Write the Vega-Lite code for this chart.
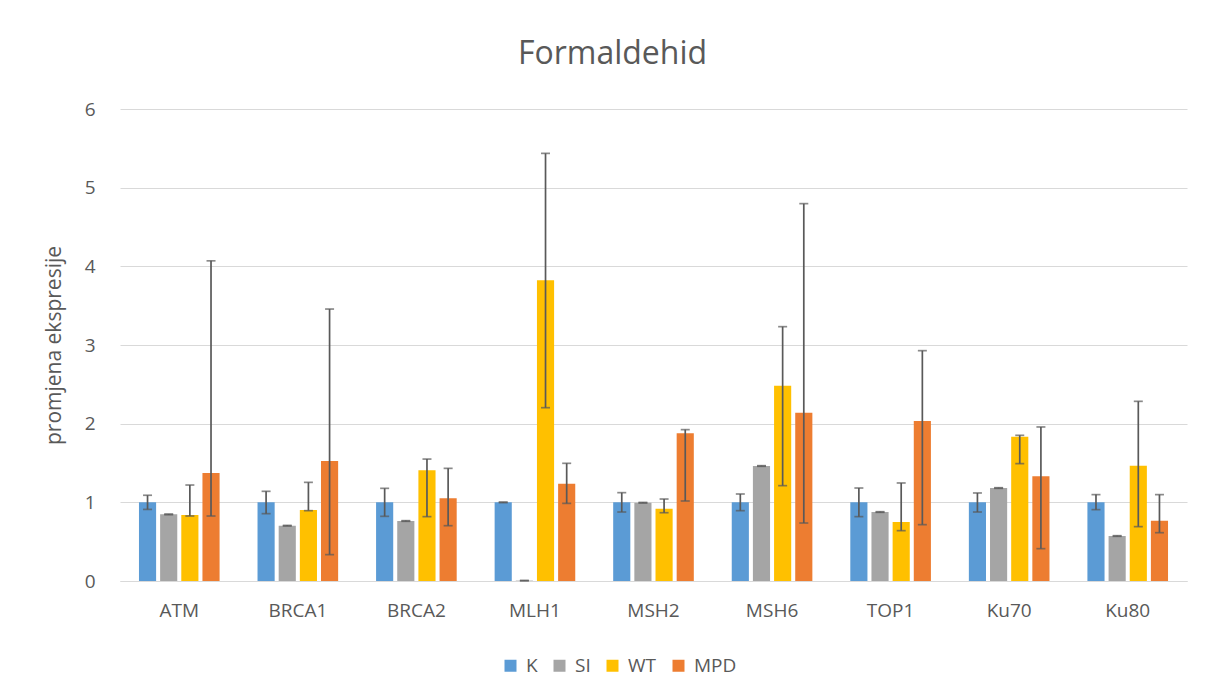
{
  "$schema": "https://vega.github.io/schema/vega-lite/v6.json",
  "autosize": "none",
  "width": 1067,
  "height": 472,
  "padding": {"left": 120, "top": 109, "right": 18, "bottom": 118},
  "background": "white",
  "title": {"text": "Formaldehid", "fontSize": 32, "font": "Open Sans", "fontWeight": "normal", "color": "#595959", "offset": 29, "dx": -41},
  "config": {
    "font": "Open Sans",
    "view": {"stroke": null},
    "axis": {"labelFont": "Open Sans", "titleFont": "Open Sans", "labelColor": "#595959", "titleColor": "#595959"},
    "legend": {"labelFont": "Open Sans"}
  },
  "data": {
    "values": [
      {"gene": "ATM", "group": "K", "value": 1.0, "lo": 0.91, "hi": 1.09},
      {"gene": "ATM", "group": "SI", "value": 0.847, "lo": 0.842, "hi": 0.852},
      {"gene": "ATM", "group": "WT", "value": 0.84, "lo": 0.826, "hi": 1.22},
      {"gene": "ATM", "group": "MPD", "value": 1.373, "lo": 0.826, "hi": 4.07},
      {"gene": "BRCA1", "group": "K", "value": 1.0, "lo": 0.856, "hi": 1.14},
      {"gene": "BRCA1", "group": "SI", "value": 0.703, "lo": 0.699, "hi": 0.707},
      {"gene": "BRCA1", "group": "WT", "value": 0.902, "lo": 0.894, "hi": 1.254},
      {"gene": "BRCA1", "group": "MPD", "value": 1.525, "lo": 0.335, "hi": 3.457},
      {"gene": "BRCA2", "group": "K", "value": 1.0, "lo": 0.822, "hi": 1.178},
      {"gene": "BRCA2", "group": "SI", "value": 0.763, "lo": 0.759, "hi": 0.767},
      {"gene": "BRCA2", "group": "WT", "value": 1.407, "lo": 0.818, "hi": 1.55},
      {"gene": "BRCA2", "group": "MPD", "value": 1.051, "lo": 0.703, "hi": 1.432},
      {"gene": "MLH1", "group": "K", "value": 1.0, "lo": 0.996, "hi": 1.004},
      {"gene": "MLH1", "group": "SI", "value": 0.005, "lo": 0.003, "hi": 0.007},
      {"gene": "MLH1", "group": "WT", "value": 3.822, "lo": 2.203, "hi": 5.436},
      {"gene": "MLH1", "group": "MPD", "value": 1.237, "lo": 0.987, "hi": 1.496},
      {"gene": "MSH2", "group": "K", "value": 1.0, "lo": 0.877, "hi": 1.123},
      {"gene": "MSH2", "group": "SI", "value": 0.995, "lo": 0.991, "hi": 0.999},
      {"gene": "MSH2", "group": "WT", "value": 0.919, "lo": 0.868, "hi": 1.042},
      {"gene": "MSH2", "group": "MPD", "value": 1.877, "lo": 1.017, "hi": 1.924},
      {"gene": "MSH6", "group": "K", "value": 1.0, "lo": 0.894, "hi": 1.106},
      {"gene": "MSH6", "group": "SI", "value": 1.462, "lo": 1.458, "hi": 1.466},
      {"gene": "MSH6", "group": "WT", "value": 2.483, "lo": 1.212, "hi": 3.233},
      {"gene": "MSH6", "group": "MPD", "value": 2.14, "lo": 0.737, "hi": 4.797},
      {"gene": "TOP1", "group": "K", "value": 1.0, "lo": 0.818, "hi": 1.182},
      {"gene": "TOP1", "group": "SI", "value": 0.877, "lo": 0.873, "hi": 0.881},
      {"gene": "TOP1", "group": "WT", "value": 0.75, "lo": 0.64, "hi": 1.246},
      {"gene": "TOP1", "group": "MPD", "value": 2.034, "lo": 0.716, "hi": 2.928},
      {"gene": "Ku70", "group": "K", "value": 1.0, "lo": 0.877, "hi": 1.119},
      {"gene": "Ku70", "group": "SI", "value": 1.182, "lo": 1.178, "hi": 1.186},
      {"gene": "Ku70", "group": "WT", "value": 1.835, "lo": 1.492, "hi": 1.852},
      {"gene": "Ku70", "group": "MPD", "value": 1.33, "lo": 0.411, "hi": 1.958},
      {"gene": "Ku80", "group": "K", "value": 1.0, "lo": 0.907, "hi": 1.098},
      {"gene": "Ku80", "group": "SI", "value": 0.572, "lo": 0.568, "hi": 0.576},
      {"gene": "Ku80", "group": "WT", "value": 1.466, "lo": 0.691, "hi": 2.284},
      {"gene": "Ku80", "group": "MPD", "value": 0.767, "lo": 0.614, "hi": 1.098}
    ]
  },
  "encoding": {
    "x": {
      "field": "gene", "type": "nominal", "sort": null,
      "scale": {"paddingInner": 0.32, "paddingOuter": 0.16},
      "axis": {"title": null, "labelAngle": 0, "labelFontSize": 19, "labelPadding": 20, "ticks": false, "domainColor": "#D9D9D9", "domainWidth": 1}
    },
    "xOffset": {
      "field": "group", "type": "nominal", "sort": ["K", "SI", "WT", "MPD"],
      "scale": {"paddingInner": 0.19, "paddingOuter": 0}
    }
  },
  "layer": [
    {
      "mark": {"type": "bar"},
      "encoding": {
        "y": {
          "field": "value", "type": "quantitative",
          "scale": {"domain": [0, 6], "nice": false},
          "axis": {"title": "promjena ekspresije", "titleFontSize": 21, "titleFontWeight": "normal", "titlePadding": 20, "labelFontSize": 19, "labelPadding": 25, "format": "d", "ticks": false, "domain": false, "gridColor": "#D9D9D9", "gridWidth": 1, "values": [0, 1, 2, 3, 4, 5, 6]}
        },
        "color": {
          "field": "group", "type": "nominal",
          "scale": {"domain": ["K", "SI", "WT", "MPD"], "range": ["#5B9BD5", "#A5A5A5", "#FFC000", "#ED7D31"]},
          "legend": {"title": null, "orient": "none", "direction": "horizontal", "legendX": 381, "legendY": 547, "symbolType": "square", "symbolSize": 144, "symbolStrokeWidth": 0, "labelFontSize": 19, "labelColor": "#595959", "labelOffset": 6, "columnPadding": 12}
        }
      }
    },
    {
      "mark": {"type": "rule", "color": "#595959", "strokeWidth": 1.7},
      "encoding": {
        "y": {"field": "lo", "type": "quantitative"},
        "y2": {"field": "hi"}
      }
    },
    {
      "mark": {"type": "tick", "color": "#595959", "thickness": 1.7, "size": 9, "orient": "horizontal"},
      "encoding": {"y": {"field": "lo", "type": "quantitative"}}
    },
    {
      "mark": {"type": "tick", "color": "#595959", "thickness": 1.7, "size": 9, "orient": "horizontal"},
      "encoding": {"y": {"field": "hi", "type": "quantitative"}}
    }
  ]
}
